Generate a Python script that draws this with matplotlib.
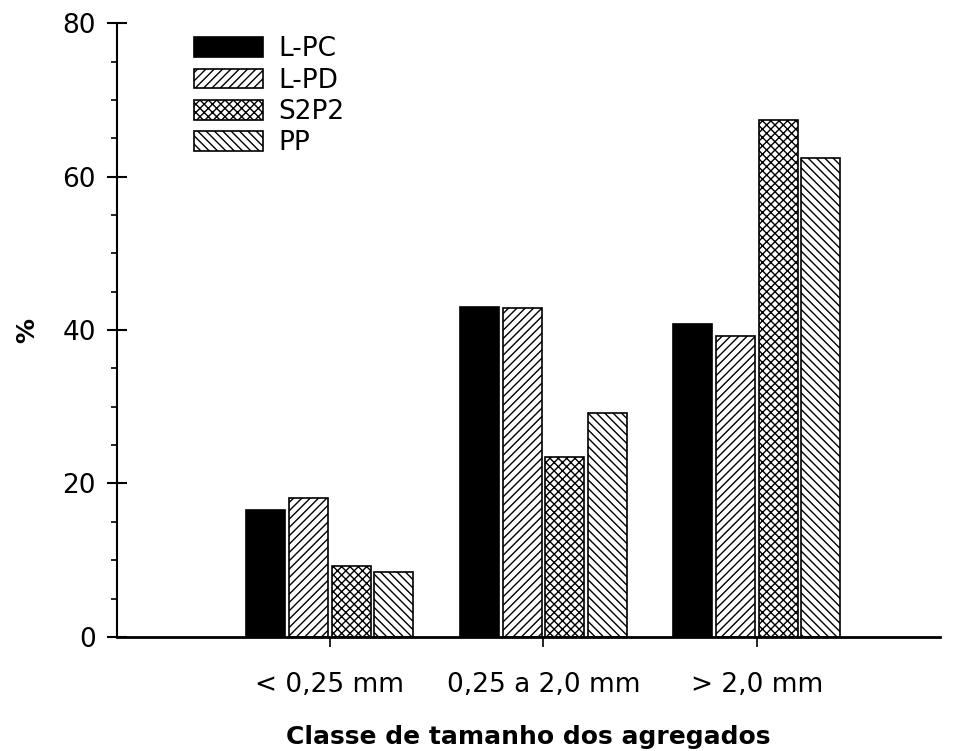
import numpy as np
import matplotlib.pyplot as plt

plt.rcParams['font.family'] = ['DejaVu Sans']
plt.rcParams['hatch.linewidth'] = 1.0

# dados
classes = ['< 0,25 mm', '0,25 a 2,0 mm', '> 2,0 mm']
series = ['L-PC', 'L-PD', 'S2P2', 'PP']
l_pc = [16.5, 43.0, 40.8]
l_pd = [18.1, 42.9, 39.2]
s2p2 = [9.3, 23.4, 67.4]
pp = [8.4, 29.2, 62.4]
valores = [l_pc, l_pd, s2p2, pp]

cores = ['black', 'white', 'white', 'white']
hachuras = [None, '////', 'xxxx', '\\\\\\\\']

fig = plt.figure(figsize=(9.58, 7.51), dpi=100)
ax = fig.add_axes([0.122, 0.152, 0.859, 0.817])

x = np.arange(len(classes))
largura = 0.183
passo = 0.2
for i in range(len(series)):
    ax.bar(x + (i - 1.5) * passo, valores[i], largura, color=cores[i],
           edgecolor='black', linewidth=1.2, hatch=hachuras[i], label=series[i])

ax.set_xlim(-0.998, 2.857)
ax.set_ylim(0, 80)
ax.set_xticks(x)
ax.set_xticklabels(classes)
ax.set_yticks([0, 20, 40, 60, 80])
ax.set_yticks(np.arange(0, 81, 5), minor=True)

ax.spines['top'].set_visible(False)
ax.spines['right'].set_visible(False)
ax.spines['left'].set_linewidth(1.5)
ax.spines['bottom'].set_linewidth(2)

ax.tick_params(axis='y', which='major', direction='inout', length=14, width=1.5,
               labelsize=19, pad=8)
ax.tick_params(axis='y', which='minor', direction='out', length=4, width=1.2)
ax.tick_params(axis='x', which='major', direction='out', length=7, width=1.2,
               labelsize=19, pad=18)

ax.set_ylabel('%', fontsize=18, fontweight='bold', labelpad=17)
ax.set_xlabel('Classe de tamanho dos agregados', fontsize=18, fontweight='bold',
              labelpad=20)

ax.legend(loc='upper left', bbox_to_anchor=(0.078, 1.0), frameon=False,
          fontsize=19, handlelength=2.6, handleheight=0.78, labelspacing=0.2,
          handletextpad=0.6, borderpad=0)

fig.savefig('out.png', dpi=100)
